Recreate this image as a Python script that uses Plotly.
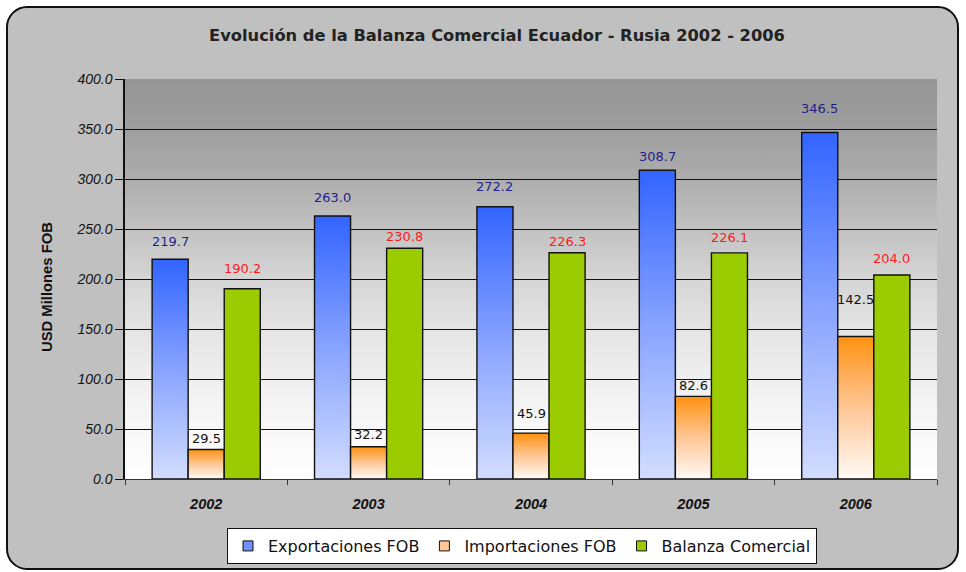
import base64
import plotly.graph_objects as go

# ---------------- data ----------------
years = ["2002", "2003", "2004", "2005", "2006"]
exportaciones = [219.7, 263.0, 272.2, 308.7, 346.5]
importaciones = [29.5, 32.2, 45.9, 82.6, 142.5]
balanza = [190.2, 230.8, 226.3, 226.1, 204.0]
y_ticks = [0, 50, 100, 150, 200, 250, 300, 350, 400]

series_names = ["Exportaciones FOB", "Importaciones FOB", "Balanza Comercial"]

# ---------------- styling / layout helpers ----------------
W, H = 966, 572
ML, MR, MT, MB = 125, 29, 79, 93
PW, PH = W - ML - MR, H - MT - MB

bar_w = 0.222
offsets = [-0.222, 0.0, 0.222]
# label vertical offsets (px, label centre above bar top)
lbl_shift = [
    [18, 19, 20, 14, 24],
    [11, 12, 20, 11, 37],
    [20, 12, 11, 15, 17],
]
lbl_color = ["#1f1f8a", "#111111", "#ff1a1a"]

grad_blue = [[0, "#d2ddff"], [0.5, "#88a3ff"], [1, "#3264ff"]]
grad_orange = [[0, "#fffaf6"], [0.5, "#ffc796"], [1, "#ff9210"]]
green = "#9bcc00"

def svg_uri(svg):
    return "data:image/svg+xml;base64," + base64.b64encode(svg.encode()).decode()

frame_svg = (
    f"<svg xmlns='http://www.w3.org/2000/svg' width='{W}' height='{H}' viewBox='0 0 {W} {H}' preserveAspectRatio='none'>"
    f"<rect width='{W}' height='{H}' fill='white'/>"
    "<rect x='7' y='7' width='951' height='562' rx='20' ry='20' fill='#c0c0c0' stroke='#111' stroke-width='2'/>"
    "</svg>"
)
bg_stops = [(0, "#959595"), (0.125, "#9e9e9e"), (0.25, "#adadad"), (0.375, "#c2c2c2"),
            (0.5, "#d5d5d5"), (0.625, "#e4e4e4"), (0.75, "#efefef"), (0.875, "#f8f8f8"), (1, "#ffffff")]
stops = "".join(f"<stop offset='{o}' stop-color='{c}'/>" for o, c in bg_stops)
bg_svg = (
    f"<svg xmlns='http://www.w3.org/2000/svg' width='{PW}' height='{PH}' viewBox='0 0 {PW} {PH}' preserveAspectRatio='none'>"
    f"<defs><linearGradient id='g' x1='0' y1='0' x2='0' y2='1'>{stops}</linearGradient></defs>"
    f"<rect width='{PW}' height='{PH}' fill='url(#g)'/></svg>"
)

fig = go.Figure()

all_series = [exportaciones, importaciones, balanza]
for s, vals in enumerate(all_series):
    for i, v in enumerate(vals):
        xc = i + offsets[s]
        x0, x1 = xc - bar_w / 2, xc + bar_w / 2
        kw = dict(
            x=[x0, x0, x1, x1, x0], y=[0, v, v, 0, 0], mode="lines", fill="toself",
            line=dict(color="#111111", width=1.4), showlegend=False, hoverinfo="skip",
        )
        if s == 0:
            kw["fillgradient"] = dict(type="vertical", colorscale=grad_blue)
        elif s == 1:
            kw["fillgradient"] = dict(type="vertical", colorscale=grad_orange)
        else:
            kw["fillcolor"] = green
        fig.add_trace(go.Scatter(**kw))

# legend-only traces
leg_colors = ["#7090ff", "#ffc79a", green]
for name, c in zip(series_names, leg_colors):
    fig.add_trace(go.Scatter(
        x=[None], y=[None], mode="markers", name=name,
        marker=dict(symbol="square", size=10, color=c, line=dict(color="#111", width=1)),
    ))

annotations = []
for s, vals in enumerate(all_series):
    for i, v in enumerate(vals):
        annotations.append(dict(
            x=i + offsets[s], y=v, xref="x", yref="y", text=f"{v:.1f}",
            showarrow=False, yanchor="middle", yshift=lbl_shift[s][i],
            font=dict(family="DejaVu Sans", size=13, color=lbl_color[s]),
        ))
annotations.append(dict(
    x=(47 - ML) / PW, y=(MT + PH - 287) / PH, xref="paper", yref="paper",
    xanchor="center", yanchor="middle",
    text="<b>USD Millones FOB</b>", textangle=-90, showarrow=False,
    font=dict(family="Liberation Sans Narrow, Liberation Sans, Arial", size=14.8, color="#111"),
))

fig.update_layout(
    width=W, height=H, autosize=False,
    margin=dict(l=ML, r=MR, t=MT, b=MB, autoexpand=False),
    paper_bgcolor="white",
    plot_bgcolor="rgba(0,0,0,0)",
    title=dict(
        text="<b>Evolución de la Balanza Comercial Ecuador - Rusia 2002 - 2006</b>",
        x=497 / W, xanchor="center", y=1 - 35 / H, yanchor="middle", yref="container",
        font=dict(family="DejaVu Sans", size=16.3, color="#222"),
    ),
    images=[
        dict(source=svg_uri(frame_svg), xref="paper", yref="paper",
             x=-ML / PW, y=1 + MT / PH, sizex=W / PW, sizey=H / PH,
             xanchor="left", yanchor="top", sizing="stretch", layer="below"),
        dict(source=svg_uri(bg_svg), xref="paper", yref="paper",
             x=0, y=1, sizex=1, sizey=1,
             xanchor="left", yanchor="top", sizing="stretch", layer="below"),
    ],
    xaxis=dict(
        range=[-0.5, 4.5], tickvals=list(range(len(years))), ticktext=years,
        ticks="", showgrid=False, zeroline=False, automargin=False,
        showline=True, linecolor="#333", linewidth=1,
        tickfont=dict(family="Liberation Sans, Arial", size=14.5, color="#111",
                      style="italic", weight="bold"),
        ticklabelstandoff=12,
        minor=dict(tickvals=[i - 0.5 for i in range(len(years) + 1)], ticks="outside",
                   ticklen=5, tickcolor="#333", tickwidth=1, showgrid=False),
    ),
    yaxis=dict(
        range=[0, 400], tickvals=y_ticks, tickformat=".1f", automargin=False,
        showgrid=True, gridcolor="#111111", gridwidth=1, zeroline=False,
        showline=True, linecolor="#111", linewidth=1.5,
        ticks="outside", ticklen=8, tickcolor="#111",
        tickfont=dict(family="Liberation Sans, Arial", size=14, color="#111", style="italic"),
    ),
    legend=dict(
        orientation="h", x=(522 - ML) / PW, xanchor="center", y=-(528 - (MT + PH)) / PH,
        yanchor="top", bgcolor="white", bordercolor="#111", borderwidth=1,
        font=dict(family="DejaVu Sans", size=16, color="#111"),
        itemwidth=30, tracegroupgap=0,
    ),
    annotations=annotations,
    showlegend=True,
)

fig.write_html(
    "out.html",
    config={"displayModeBar": False},
    post_script="document.body.style.margin='0';document.body.style.overflow='hidden';",
)
